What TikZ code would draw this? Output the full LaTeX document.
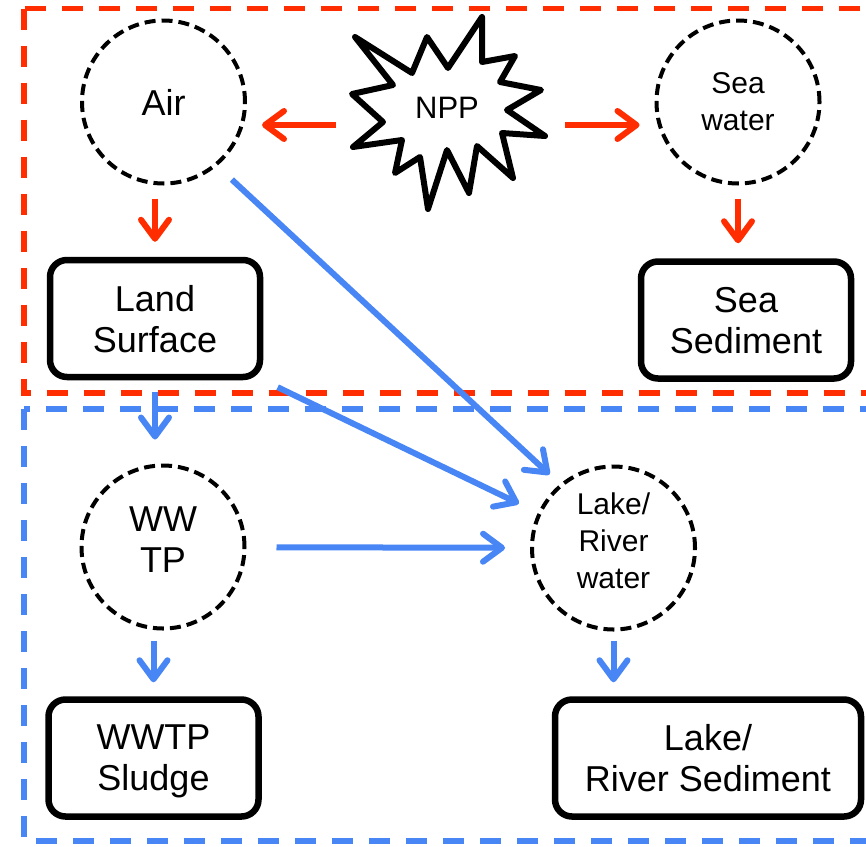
\documentclass[tikz,border=0pt]{standalone}
\usepackage{fontspec}
\setmainfont{Liberation Sans}
\usepackage{tikz}
\usetikzlibrary{arrows.meta}
\definecolor{nppred}{RGB}{255,45,0}
\definecolor{wwblue}{RGB}{72,134,246}

\begin{document}
\begin{tikzpicture}[x=1pt,y=-1pt,
	pool/.style={circle,draw,line width=4pt,dash pattern=on 11pt off 6pt,minimum size=163pt,inner sep=0pt,align=center,font=\fontsize{36}{41}\selectfont},
	smallpool/.style={pool,font=\fontsize{30}{36.7}\selectfont},
	sink/.style={draw,line width=6.5pt,rounded corners=17pt,minimum width=210pt,minimum height=117pt,align=center,text depth=0pt,font=\fontsize{36}{41}\selectfont},
	zone/.style={line width=5.5pt,dash pattern=on 21pt off 16pt},
	redarrow/.style={draw=nppred,line width=6pt,-{Straight Barb[length=19pt,width=28pt,round]}},
	bluearrow/.style={redarrow,draw=wwblue}]
	\useasboundingbox (0,0) rectangle (866,846);
	% zones
	\draw [zone,nppred] (24,8.5) rectangle (890,393);
	\draw [zone,wwblue] (24,409) rectangle (890,841);
	%
	\node [pool] (air) at (163.5,102) {Air};
	\node [smallpool] (sea) at (738,102) {Sea\\water};
	\node [sink] (land) at (155,318.5) {Land\\Surface};
	\node [sink] (seased) at (746,320) {Sea\\Sediment};
	\node [pool,text depth=14pt] (wwtp) at (163,547) {WW\\TP};
	\node [smallpool,text depth=15pt] (lake) at (613.5,548) {Lake/\\River\\water};
	\node [sink] (sludge) at (153.5,758) {WWTP\\Sludge};
	\node [sink,minimum width=306pt] (lakesed) at (708,758) {Lake/\\River Sediment};
	%
	\draw [line width=6pt,line join=round,fill=white] (355,37) -- (412,73) -- (427,37) -- (448,68) -- (482,17) -- (482,62) -- (515,56) -- (500,82) -- (541,90) -- (507,110) -- (545,136) -- (502,133) -- (513,178) -- (477,146) -- (469,193) -- (447,150) -- (428,209) -- (420,157) -- (395,173) -- (402,140) -- (353,147) -- (383,122) -- (352,94) -- (393,85) -- cycle;
	\node (npp) at (447,108) {\fontsize{31}{36}\selectfont NPP};
	\coordinate (npp-w) at (336,125);
	\coordinate (npp-e) at (565,125);
	%
	\draw [redarrow,shorten >=15pt] (npp-w) -- (air.east |- npp-w);
	\draw [redarrow,shorten >=15pt] (npp-e) -- (sea.west |- npp-e);
	\draw [redarrow,shorten <=13pt,shorten >=15pt] (air.south -| land.north) -- (land.north);
	\draw [redarrow,shorten <=13pt,shorten >=15pt] (sea.south) -- (sea.south |- seased.north);
	%
	\draw [bluearrow,shorten <=12pt,shorten >=24pt] (land.south) -- (land.south |- wwtp.north);
	\draw [bluearrow,shorten <=20pt,shorten >=14pt] (air.-50) -- (lake.130);
	\draw [bluearrow,shorten <=16pt,shorten >=21pt] (land.south east) -- (lake.155);
	\draw [bluearrow,shorten <=30pt,shorten >=25pt] (wwtp) -- (lake);
	\draw [bluearrow,shorten <=10pt,shorten >=14pt] (wwtp.south -| sludge.north) -- (sludge.north);
	\draw [bluearrow,shorten <=9pt,shorten >=14pt] (lake.south) -- (lake.south |- lakesed.north);
\end{tikzpicture}
\end{document}
